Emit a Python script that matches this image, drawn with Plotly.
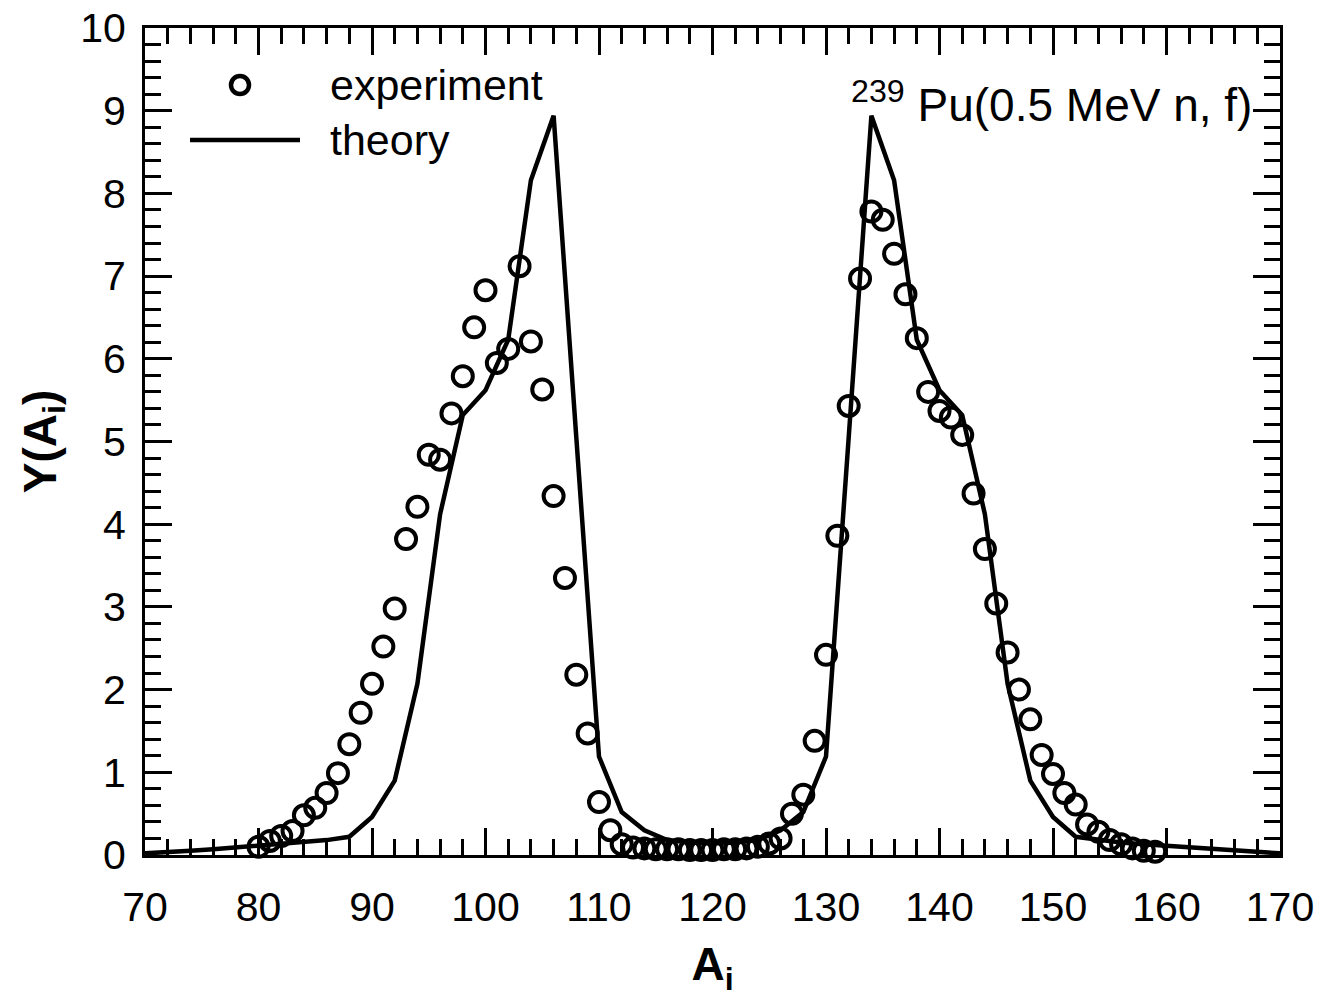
import plotly.graph_objects as go

# Experimental fragment yields
exp_A = list(range(80, 160))
exp_Y = [0.10, 0.17, 0.23, 0.29, 0.48, 0.57, 0.75, 0.99, 1.34, 1.72,
         2.07, 2.52, 2.98, 3.82, 4.21, 4.84, 4.78, 5.34, 5.79, 6.38,
         6.83, 5.95, 6.12, 7.12, 6.21, 5.63, 4.34, 3.35, 2.18, 1.47,
         0.64, 0.30, 0.13, 0.09, 0.08, 0.07, 0.07, 0.07, 0.06, 0.06,
         0.06, 0.07, 0.07, 0.08, 0.10, 0.14, 0.20, 0.50, 0.73, 1.38,
         2.42, 3.86, 5.43, 6.97, 7.78, 7.68, 7.27, 6.78, 6.25, 5.60,
         5.37, 5.29, 5.08, 4.37, 3.70, 3.04, 2.45, 2.00, 1.64, 1.21,
         0.98, 0.75, 0.61, 0.37, 0.28, 0.18, 0.13, 0.08, 0.05, 0.04]

# Theory curve
th_A = list(range(70, 172, 2))
th_Y = [0.02, 0.03, 0.05, 0.07, 0.09, 0.11, 0.13, 0.15, 0.18, 0.22,
        0.46, 0.90, 2.07, 4.12, 5.32, 5.62, 6.23, 8.16, 8.94, 5.05,
        1.19, 0.52, 0.30, 0.18, 0.15, 0.14, 0.15, 0.18, 0.30, 0.52,
        1.19, 5.05, 8.94, 8.16, 6.23, 5.62, 5.32, 4.12, 2.07, 0.90,
        0.46, 0.22, 0.18, 0.15, 0.13, 0.11, 0.09, 0.07, 0.05, 0.03, 0.02]

x_ticks = list(range(70, 171, 10))
y_ticks = list(range(0, 11, 1))

FONT = "Liberation Sans, Arial, Helvetica, sans-serif"

fig = go.Figure()
fig.add_trace(go.Scatter(x=th_A, y=th_Y, mode="lines",
                         line=dict(color="black", width=4.5),
                         name="theory", showlegend=False, cliponaxis=True))
fig.add_trace(go.Scatter(x=exp_A, y=exp_Y, mode="markers",
                         marker=dict(symbol="circle-open", size=20, color="black",
                                     line=dict(color="black", width=4)),
                         name="experiment", showlegend=False, cliponaxis=False))

axis_common = dict(showline=True, linewidth=3, linecolor="black", mirror="ticks",
                   ticks="inside", ticklen=27, tickwidth=3, tickcolor="black",
                   showgrid=False, zeroline=False, automargin=False,
                   tickfont=dict(family=FONT, size=41, color="black"))

fig.update_xaxes(range=[70, 170], tickvals=x_ticks, ticktext=[str(v) for v in x_ticks],
                 minor=dict(ticks="inside", ticklen=16, tickwidth=3, tickcolor="black", dtick=2, tick0=70),
                 ticklabelstandoff=14,
                 title=dict(text="<b>A<sub>i</sub></b>", font=dict(family=FONT, size=46, color="black"), standoff=20),
                 **axis_common)
fig.update_yaxes(range=[0, 10], tickvals=y_ticks, ticktext=[str(v) for v in y_ticks],
                 minor=dict(ticks="inside", ticklen=16, tickwidth=3, tickcolor="black", dtick=0.2, tick0=0),
                 ticklabelstandoff=8,
                 title=dict(text="<b>Y(A<sub>i</sub>)</b>", font=dict(family=FONT, size=46, color="black"), standoff=10),
                 **axis_common)

# manual legend
fig.add_shape(type="circle", xref="paper", yref="paper", xsizemode="pixel", ysizemode="pixel",
              xanchor=(240-145)/1135, yanchor=(855-85)/827, x0=-9, x1=9, y0=-9, y1=9,
              line=dict(color="black", width=4.5))
fig.add_shape(type="line", xref="paper", yref="paper",
              x0=(190-145)/1135, x1=(300-145)/1135, y0=(855-140)/827, y1=(855-140)/827,
              line=dict(color="black", width=4.5))
fig.add_annotation(xref="paper", yref="paper", x=(328-145)/1135, y=(855-85)/827,
                   text="experiment", showarrow=False, xanchor="left", yanchor="middle",
                   font=dict(family=FONT, size=43, color="black"))
fig.add_annotation(xref="paper", yref="paper", x=(328-145)/1135, y=(855-140)/827,
                   text="theory", showarrow=False, xanchor="left", yanchor="middle",
                   font=dict(family=FONT, size=43, color="black"))
fig.add_annotation(xref="paper", yref="paper", x=(1254-145)/1135, y=(855-102)/827,
                   text="<sup>239</sup> Pu(0.5 MeV n, f)", showarrow=False, xanchor="right", yanchor="middle",
                   font=dict(family=FONT, size=46, color="black"))

fig.update_layout(width=1323, height=997, autosize=False,
                  margin=dict(l=145, r=43, t=28, b=142),
                  paper_bgcolor="white", plot_bgcolor="white",
                  showlegend=False)

fig.write_html("out.html")
